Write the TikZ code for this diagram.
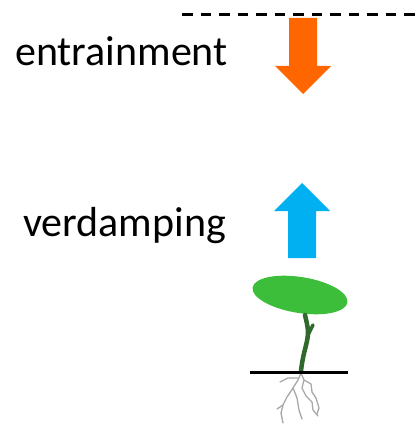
\documentclass[tikz,border=0pt]{standalone}
\usepackage{fontspec}
\setmainfont{Carlito}
\definecolor{flux down}{HTML}{FF6600}
\definecolor{flux up}{HTML}{00B0F0}
\definecolor{leafgreen}{HTML}{3DBE3A}
\definecolor{stemgreen}{HTML}{2F6A2C}
\definecolor{rootgrey}{HTML}{A8A8A8}
\tikzset{
    label text/.style={font=\fontsize{42}{50}\selectfont, inner sep=0pt, anchor=base west},
    root/.style={rootgrey, line width=1.3pt, line cap=round, line join=round},
}
\begin{document}
\begin{tikzpicture}[x=1pt, y=-1pt]
        \useasboundingbox (0,0) rectangle (418,427);
        % top of the boundary layer
        \draw[line width=3pt, dash pattern=on 10.5pt off 8pt] (182,15) -- (418,15);
        % fluxes: shaft half width 14, head half width 28
        \def\shaft{14}
        \def\head{28}
        \fill[flux down] (303-\shaft,18) -- (303+\shaft,18) -- (303+\shaft,66) -- (303+\head,66)
            -- (303,94) -- (303-\head,66) -- (303-\shaft,66) -- cycle;
        \fill[flux up] (302-\shaft,258) -- (302+\shaft,258) -- (302+\shaft,211) -- (302+\head,211)
            -- (302,183) -- (302-\head,211) -- (302-\shaft,211) -- cycle;
        \node[label text] (entr) at (15,66) {entrainment};
        \node[label text] (verd) at (23,236) {verdamping};
        % plant
        \fill[leafgreen] (300,295) ellipse [x radius=48pt, y radius=18pt, rotate=-9];
        \draw[stemgreen, line width=4.5pt, line cap=round] (301,371) .. controls (303,352) and (308,342) .. (308,333)
            .. controls (308,326) and (306,320) .. (305,315);
        \draw[stemgreen, line width=3.5pt, line cap=round] (307,337) -- (313,325);
        % roots
        \foreach \p in {
            {(301,373) -- (298,380) -- (293,388) -- (287,397) -- (283,405) -- (281,413) -- (283,423)},
            {(293,388) -- (297,398) -- (299,410) -- (302,419)},
            {(301,373) -- (304,380) -- (302,388) -- (306,396) -- (312,402) -- (313,410) -- (318,416)},
            {(304,380) -- (311,384) -- (312,392) -- (316,398) -- (319,408) -- (317,414)},
            {(298,378) -- (288,378) -- (280,382)},
            {(283,405) -- (277,409)}}
            \draw[root] \p;
        % soil surface
        \draw[line width=3pt] (250,372) -- (348,372);
    \end{tikzpicture}
\end{document}
